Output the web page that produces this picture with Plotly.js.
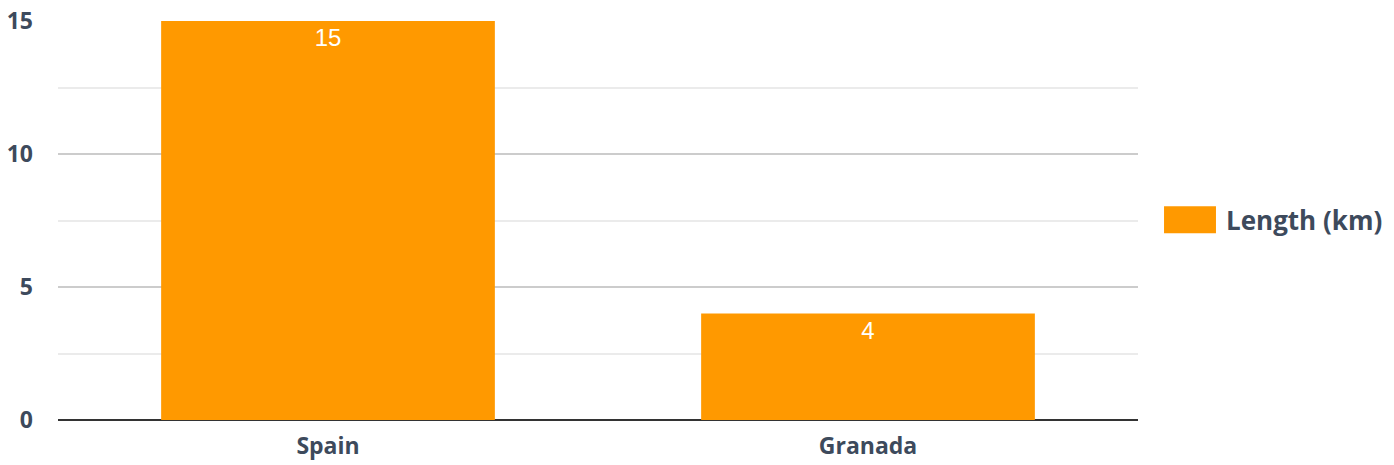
<!DOCTYPE html>
<html>
<head>
<meta charset="utf-8">
<script src="https://cdn.plot.ly/plotly-3.0.1.min.js"></script>
<style>html,body{margin:0;padding:0;background:#fff;}#chart{width:1394px;height:465px;}</style>
</head>
<body>
<div id="chart"></div>
<script>
const categories = ["Spain", "Granada"];
const lengths = [15, 4];
const seriesName = "Length (km)";
const yTicks = [0, 5, 10, 15];

const barColor = "#ff9900";
const textColor = "#3d4a5c";

const trace = {
  type: "bar",
  x: categories,
  y: lengths,
  name: seriesName,
  marker: {color: barColor},
  text: lengths.map(String),
  textposition: "inside",
  insidetextanchor: "end",
  textangle: 0,
  textfont: {family: "Liberation Sans, Arial, sans-serif", size: 24, color: "#ffffff"},
  showlegend: false,
  hoverinfo: "x+y"
};

const layout = {
  width: 1394,
  height: 465,
  margin: {l: 58, r: 256, t: 21, b: 45},
  paper_bgcolor: "#ffffff",
  plot_bgcolor: "#ffffff",
  bargap: 0.382,
  showlegend: false,
  font: {family: "Open Sans, sans-serif", color: textColor},
  xaxis: {
    type: "category",
    showgrid: false,
    zeroline: false,
    showline: false,
    ticks: "",
    tickfont: {family: "Open Sans, sans-serif", size: 23, weight: 700, color: textColor},
    ticklabelstandoff: 10
  },
  yaxis: {
    range: [0, 15],
    tickvals: yTicks,
    ticktext: yTicks.map(String),
    showgrid: true,
    gridcolor: "#cccccc",
    gridwidth: 2,
    zeroline: true,
    zerolinecolor: "#333333",
    zerolinewidth: 2,
    showline: false,
    ticks: "",
    ticklabelstandoff: 24,
    tickfont: {family: "Open Sans, sans-serif", size: 23, weight: 700, color: textColor},
    minor: {dtick: 2.5, showgrid: true, gridcolor: "#ebebeb", gridwidth: 2}
  },
  shapes: [{
    type: "rect", xref: "paper", yref: "paper",
    x0: 1.0241, x1: 1.0722, y0: 0.468, y1: 0.536,
    fillcolor: barColor, line: {width: 0}
  }],
  annotations: [{
    xref: "paper", yref: "paper", x: 1.0796, y: 0.502,
    xanchor: "left", yanchor: "middle", showarrow: false,
    text: seriesName,
    font: {family: "Open Sans, sans-serif", size: 26, weight: 700, color: textColor}
  }]
};

Plotly.newPlot("chart", [trace], layout, {displayModeBar: false, staticPlot: true});
</script>
</body>
</html>
